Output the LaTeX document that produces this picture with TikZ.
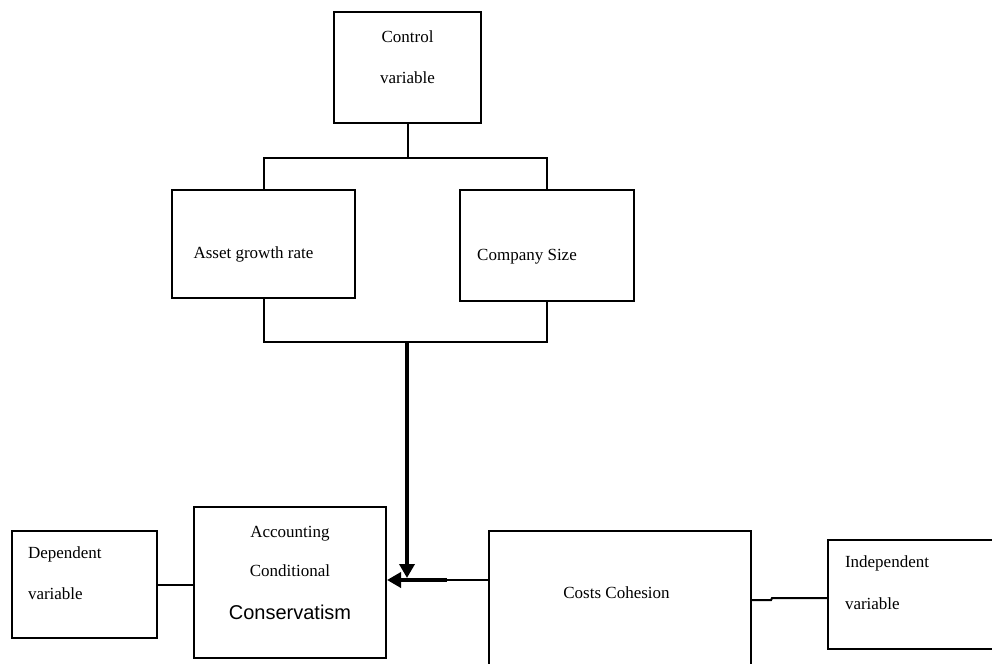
\documentclass[tikz,border=0pt]{standalone}
\usepackage{fontspec}
\setmainfont{Liberation Serif}
\setsansfont{Liberation Sans}
\usetikzlibrary{calc, positioning, arrows.meta}

\begin{document}
\begin{tikzpicture}[x=0.5pt,y=-0.5pt]
  \tikzset{box/.style={draw,line width=1pt,inner sep=0pt,font=\fontsize{8.5}{10}\selectfont}}
  \tikzset{link/.style={line width=1pt}}
  \tikzset{main link/.style={line width=2.2pt,-{Triangle[length=7pt,width=7.5pt]}}}
  \useasboundingbox (0,0) rectangle (992,664);
  \clip (0,0) rectangle (992,664);
  \node[box,minimum width=73.5pt,minimum height=55.5pt,align=center] (ctrl) at (407.5,67.5)
    {Control\\[10.5pt]variable\rule[-10.5pt]{0pt}{0pt}};
  \node[box,minimum width=91.5pt,minimum height=54pt] (asset) at (263.5,244)
    {\rule{0pt}{16pt}Asset growth rate\rule{10pt}{0pt}};
  \node[box,minimum width=87pt,minimum height=55.5pt] (size) at (547,245.5)
    {\rule{0pt}{16.5pt}Company Size\rule{20pt}{0pt}};
  \node[box,minimum width=96pt,minimum height=75.5pt,align=center] (acc) at (290,582.5)
    {Accounting\\[9.5pt]Conditional\\[11.5pt]{\sffamily\fontsize{10}{12}\selectfont Conservatism}\rule[-10pt]{0pt}{0pt}};
  \node[box,minimum width=72.5pt,minimum height=53.5pt,text width=56.5pt,align=left] (dep) at (84.5,584.5)
    {Dependent\\[10.5pt]variable\rule[-11.5pt]{0pt}{0pt}};
  \node[box,minimum width=131pt,minimum height=84.5pt] (cost) at (620,615.5)
    {Costs Cohesion\rule[-22.5pt]{3.5pt}{0pt}};
  \node[box,minimum width=86pt,minimum height=54.5pt,text width=69pt,align=left] (indep) at (914,594.5)
    {Independent\\[11pt]variable\rule[-11.5pt]{0pt}{0pt}};

  \coordinate (jtop) at (407.5,158);
  \coordinate (jbot) at (407,342);
  \coordinate (tipv) at (407,578);
  \coordinate (hjoin) at (447,580);
  \coordinate (kink) at (771,600);
  \coordinate (kink2) at (772,598);

  \draw[link] (ctrl.south) -- (jtop);
  \draw[link] (asset.north) -- (asset.north |- jtop) -- (size.north |- jtop) -- (size.north);
  \draw[link] (asset.south) -- (asset.south |- jbot) -- (size.south |- jbot) -- (size.south);
  \draw[main link] (jbot) -- (tipv);
  \draw[link] (cost.west |- hjoin) -- (hjoin);
  \draw[main link] (hjoin) -- (acc.east |- hjoin);
  \draw[link] (dep.east) -- (dep.east -| acc.west);
  \draw[link] (cost.east |- kink) -- (kink) -- (kink2) -- (indep.west |- kink2);
\end{tikzpicture}
\end{document}
